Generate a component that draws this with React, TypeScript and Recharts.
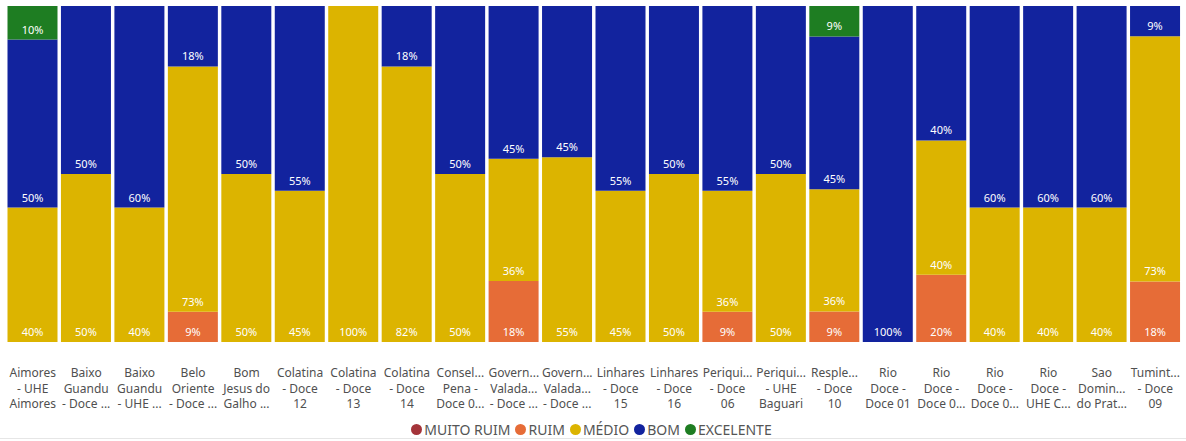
import { BarChart, Bar, XAxis, YAxis, Legend, LabelList } from "recharts";

const categories = [
  "Aimores\n- UHE\nAimores",
  "Baixo\nGuandu\n- Doce ...",
  "Baixo\nGuandu\n- UHE ...",
  "Belo\nOriente\n- Doce ...",
  "Bom\nJesus do\nGalho ...",
  "Colatina\n- Doce\n12",
  "Colatina\n- Doce\n13",
  "Colatina\n- Doce\n14",
  "Consel...\nPena -\nDoce 0...",
  "Govern...\nValada...\n- Doce ...",
  "Govern...\nValada...\n- Doce ...",
  "Linhares\n- Doce\n15",
  "Linhares\n- Doce\n16",
  "Periqui...\n- Doce\n06",
  "Periqui...\n- UHE\nBaguari",
  "Resple...\n- Doce\n10",
  "Rio\nDoce -\nDoce 01",
  "Rio\nDoce -\nDoce 0...",
  "Rio\nDoce -\nDoce 0...",
  "Rio\nDoce -\nUHE C...",
  "Sao\nDomin...\ndo Prat...",
  "Tumint...\n- Doce\n09",
];

const muitoRuim = [0, 0, 0, 0, 0, 0, 0, 0, 0, 0, 0, 0, 0, 0, 0, 0, 0, 0, 0, 0, 0, 0];
const ruim = [0, 0, 0, 9, 0, 0, 0, 0, 0, 18, 0, 0, 0, 9, 0, 9, 0, 20, 0, 0, 0, 18];
const medio = [40, 50, 40, 73, 50, 45, 100, 82, 50, 36, 55, 45, 50, 36, 50, 36, 0, 40, 40, 40, 40, 73];
const bom = [50, 50, 60, 18, 50, 55, 0, 18, 50, 45, 45, 55, 50, 55, 50, 45, 100, 40, 60, 60, 60, 9];
const excelente = [10, 0, 0, 0, 0, 0, 0, 0, 0, 0, 0, 0, 0, 0, 0, 9, 0, 0, 0, 0, 0, 0];

const SERIES = [
  { key: "muitoRuim", label: "MUITO RUIM", color: "#A4343A" },
  { key: "ruim", label: "RUIM", color: "#E66C37" },
  { key: "medio", label: "MÉDIO", color: "#DCB400" },
  { key: "bom", label: "BOM", color: "#12239E" },
  { key: "excelente", label: "EXCELENTE", color: "#1E7D22" },
];

const data = categories.map((name, i) => ({
  name,
  muitoRuim: muitoRuim[i],
  ruim: ruim[i],
  medio: medio[i],
  bom: bom[i],
  excelente: excelente[i],
}));

const FONT = "'Segoe UI', 'Noto Sans', sans-serif";

function CategoryTick(props: any) {
  const { x, y, payload } = props;
  const lines = String(payload.value).split("\n");
  return (
    <text x={x} y={y} textAnchor="middle" fill="#505050" fontSize={12} fontFamily={FONT}>
      {lines.map((ln, i) => (
        <tspan key={i} x={x} dy={i === 0 ? 27 : 15.5}>{ln}</tspan>
      ))}
    </text>
  );
}

function SegmentLabel(props: any) {
  const { x, y, width, height, value } = props;
  if (!value) return null;
  return (
    <text
      x={x + width / 2}
      y={y + height - 9}
      textAnchor="middle"
      dominantBaseline="middle"
      fill="#fff"
      fontSize={11}
      fontFamily={FONT}
    >
      {value}%
    </text>
  );
}

function LegendContent() {
  return (
    <div style={{ display: "flex", justifyContent: "center", alignItems: "center", fontFamily: FONT, fontSize: 14, color: "#555", paddingTop: 1 }}>
      {SERIES.map((s) => (
        <span key={s.key} style={{ display: "flex", alignItems: "center", marginRight: 5 }}>
          <span style={{ width: 11, height: 11, borderRadius: "50%", background: s.color, marginRight: 2 }} />
          {s.label}
        </span>
      ))}
    </div>
  );
}

export default function App() {
  return (
    <div style={{ position: "absolute", left: 0, top: 0, width: 1186, height: 441, background: "#fff" }}>
      <BarChart
        width={1186}
        height={441}
        data={data}
        stackOffset="expand"
        barCategoryGap={1.5}
        margin={{ top: 6, right: 4, left: 6, bottom: 0 }}
      >
        <XAxis dataKey="name" interval={0} axisLine={false} tickLine={false} height={77} tick={<CategoryTick />} />
        <YAxis hide domain={[0, 1]} />
        <Legend verticalAlign="bottom" height={22} content={<LegendContent />} />
        {SERIES.map((s) => (
          <Bar key={s.key} dataKey={s.key} name={s.label} stackId="a" fill={s.color} isAnimationActive={false}>
            <LabelList dataKey={s.key} content={<SegmentLabel />} />
          </Bar>
        ))}
      </BarChart>
      <div style={{ position: "absolute", left: 0, top: 438, width: 1186, height: 1, background: "#e6e6e6" }} />
    </div>
  );
}
